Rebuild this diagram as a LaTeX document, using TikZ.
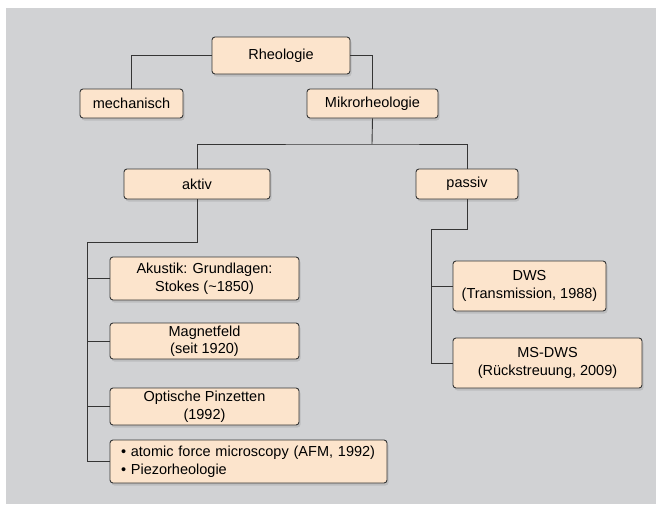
\documentclass[tikz,border=0pt]{standalone}
\usepackage{fontspec}
\setmainfont{Liberation Sans}
\usetikzlibrary{shadows}

\definecolor{bggray}{HTML}{D1D2D4}
\definecolor{boxfill}{HTML}{FCE4CC}
\definecolor{linegray}{HTML}{353535}

\tikzset{
  box/.style={draw=linegray, line width=0.9pt, fill=boxfill, rounded corners=3pt,
    inner sep=0pt, align=center, font=\fontsize{14.5}{17.5}\selectfont,
    drop shadow={opacity=0.25, shadow xshift=1.5pt, shadow yshift=-2.5pt}},
  link/.style={draw=linegray, line width=0.9pt}
}

\begin{document}
\begin{tikzpicture}[x=1pt,y=-1pt]
        \useasboundingbox (0,0) rectangle (656,504);
        \fill[bggray] (6,8) rectangle (656,504);

        % Baum
        \node[box, minimum width=138, minimum height=37] (rheo) at (281,55.5) {Rheologie};
        \node[box, minimum width=103, minimum height=29] (mech) at (131.5,103.5) {mechanisch};
        \node[box, minimum width=131, minimum height=29] (mikro) at (372.5,103.5) {Mikrorheologie};
        \node[box, minimum width=146, minimum height=30] (aktiv) at (197,184) {aktiv};
        \node[box, minimum width=102, minimum height=30] (passiv) at (467,184) {passiv};

        \node[box, minimum width=189, minimum height=43] (akustik) at (204.5,278.5) {Akustik: Grundlagen:\\Stokes (\textasciitilde1850)};
        \node[box, minimum width=189, minimum height=36] (magnet) at (204.5,341) {Magnetfeld\\(seit 1920)};
        \node[box, minimum width=189, minimum height=37] (optisch) at (204.5,406.5) {Optische Pinzetten\\(1992)};
        \node[box, text width=255, inner xsep=11pt, align=left, minimum height=43] (afm) at (248.5,461.5) {• atomic force microscopy (AFM, 1992)\\• Piezorheologie};

        \node[box, minimum width=153, minimum height=50] (dws) at (529.5,286) {DWS\\(Transmission, 1988)};
        \node[box, minimum width=189, minimum height=50] (msdws) at (547.5,363) {MS-DWS\\(Rückstreuung, 2009)};

        % Verbindungen
        \coordinate (mfork) at (372,144);
        \coordinate (abend) at (197,242);
        \coordinate (atrunk) at (87,242);
        \coordinate (pbend) at (467,229);
        \coordinate (ptrunk) at (431,229);

        \draw[link] (rheo.west) -| (mech.north);
        \draw[link] (rheo.east) -| (mikro.north);
        \draw[link] (mikro.south) -- (mfork);
        \draw[link] (aktiv.north) |- (mfork) -| (passiv.north);

        \draw[link] (aktiv.south) -- (abend) -- (atrunk) |- (afm.west);
        \foreach \n in {akustik,magnet,optisch}
            \draw[link] (\n.west) -- (\n.west -| atrunk);

        \draw[link] (passiv.south) -- (pbend) -- (ptrunk) |- (msdws.west);
        \draw[link] (dws.west) -- (dws.west -| ptrunk);
    \end{tikzpicture}
\end{document}
